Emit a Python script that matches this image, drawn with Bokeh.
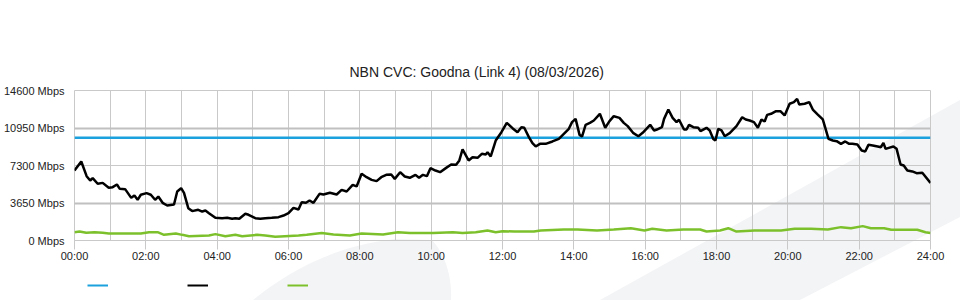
from bokeh.plotting import figure
from bokeh.layouts import column
from bokeh.models import (FixedTicker, Grid, Legend, LegendItem, Range1d)
from bokeh.embed import file_html
from bokeh.resources import INLINE

TITLE = "NBN CVC: Goodna (Link 4) (08/03/2026)"

# capacity line
cap_hours = [0, 24]
cap_values = [10000, 10000]

# traffic (black) series, hours since midnight and Mbps
black_hours = [0.00, 0.19, 0.34, 0.44, 0.51, 0.65, 0.79, 0.96, 1.07, 1.19, 1.27, 1.42, 1.59, 1.68, 1.77,
               1.86, 2.02, 2.14, 2.26, 2.35, 2.47, 2.60, 2.79, 2.88, 2.99, 3.07, 3.19, 3.30, 3.47, 3.58,
               3.67, 3.77, 3.95, 4.14, 4.28, 4.42, 4.51, 4.62, 4.79, 4.88, 5.07, 5.21, 5.35, 5.53, 5.72,
               5.86, 6.00, 6.14, 6.28, 6.37, 6.49, 6.59, 6.70, 6.87, 6.98, 7.16, 7.35, 7.49, 7.63, 7.80,
               7.91, 8.05, 8.19, 8.33, 8.47, 8.60, 8.74, 8.88, 8.98, 9.13, 9.26, 9.40, 9.56, 9.66, 9.77,
               9.88, 9.98, 10.12, 10.25, 10.42, 10.56, 10.70, 10.79, 10.88, 11.05, 11.16, 11.30, 11.42,
               11.53, 11.58, 11.67, 11.81, 11.97, 12.12, 12.28, 12.42, 12.53, 12.61, 12.74, 12.84, 12.93,
               13.05, 13.21, 13.40, 13.58, 13.72, 13.86, 13.95, 14.05, 14.16, 14.23, 14.33, 14.45, 14.56,
               14.73, 14.88, 15.00, 15.12, 15.28, 15.40, 15.51, 15.66, 15.81, 15.93, 16.14, 16.25, 16.33,
               16.47, 16.53, 16.65, 16.77, 16.88, 16.95, 17.09, 17.16, 17.23, 17.35, 17.49, 17.55, 17.72,
               17.81, 17.91, 17.97, 18.05, 18.14, 18.23, 18.37, 18.56, 18.72, 18.82, 18.93, 19.05, 19.16,
               19.26, 19.35, 19.42, 19.53, 19.67, 19.79, 19.91, 20.05, 20.17, 20.26, 20.32, 20.47, 20.60,
               20.70, 20.84, 20.98, 21.05, 21.14, 21.26, 21.37, 21.49, 21.61, 21.72, 21.81, 21.95, 22.07,
               22.17, 22.26, 22.38, 22.52, 22.61, 22.68, 22.74, 22.83, 22.96, 23.05, 23.16, 23.25, 23.35,
               23.49, 23.61, 23.77, 24.00]
black_values = [6810, 7690, 6260, 5840, 6070, 5520, 5610, 5130, 5190, 5450, 5030, 5000, 4150, 4380, 3960,
                4450, 4610, 4450, 3960, 4280, 3670, 3410, 3500, 4770, 5090, 4640, 3150, 2860, 2990, 2820,
                2920, 2660, 2210, 2170, 2210, 2110, 2170, 2110, 2600, 2500, 2170, 2110, 2170, 2210, 2270,
                2430, 2660, 3180, 3020, 3730, 3670, 3890, 3670, 4540, 4480, 4640, 4480, 4930, 4770, 5420,
                5260, 6490, 6160, 5900, 5780, 6160, 6390, 6420, 6000, 6650, 6230, 6100, 6390, 6100, 6390,
                6260, 7040, 6810, 6650, 7070, 7400, 7370, 7790, 8860, 7790, 8110, 8050, 8440,
                8370, 8600, 8180, 9730, 10540, 11450, 10930, 10540, 11030, 10970, 10060, 9470, 9150,
                9410, 9410, 9640, 9890, 10380, 10870, 11520, 11840, 10280, 10120, 11260, 11450, 11680,
                12330, 10970, 11620, 12100, 11940, 11450, 11130, 10480, 10150, 10480, 11260, 10710, 10800,
                11030, 11840, 12750, 11940, 11520, 11750, 10800, 10800, 11260, 11030, 10970, 10640, 10970,
                10710, 9890, 9730, 10870, 10710, 10150, 10450, 11130, 12000, 11780, 11680, 11520, 10970,
                11780, 11580, 12230, 12330, 12590, 12590, 12170, 13310, 13470, 13790, 13240, 13310, 13470,
                12750, 12260, 11780, 10970, 9890, 9730, 9670, 9410, 9640, 9410, 9410, 9340, 8760,
                8660, 9310, 9250, 9150, 9080, 9510, 8920, 9020, 9150, 8920, 7400, 7300, 6810,
                6720, 6550, 6590, 5610]

# green series
green_hours = [0.00, 0.14, 0.33, 0.56, 0.79, 0.96, 1.40, 1.86, 2.09, 2.33, 2.51, 2.84, 3.02, 3.21, 3.77,
               3.95, 4.23, 4.51, 4.70, 5.12, 5.35, 5.63, 5.90, 6.28, 6.51, 6.93, 7.26, 7.72, 8.05, 8.65,
               9.07, 9.40, 10.05, 10.61, 10.88, 11.25, 11.58, 11.81, 12.00, 12.33, 12.88, 13.07, 13.72,
               14.10, 14.65, 15.12, 15.60, 15.98, 16.20, 16.60, 17.07, 17.54, 17.72, 18.10, 18.33, 18.56,
               19.07, 19.35, 19.81, 20.19, 20.65, 21.12, 21.49, 21.77, 22.10, 22.33, 22.70, 22.90, 23.63,
               23.86, 24.00]
green_values = [810, 870, 750, 810, 750, 680, 680, 680, 810, 810, 550, 680, 550, 420, 490,
                620, 420, 550, 420, 550, 490, 360, 420, 490, 550, 720, 590, 490, 680, 590,
                810, 720, 720, 810, 720, 810, 980, 810, 910, 870, 870, 980, 1070,
                1070, 980, 1070, 1200, 980, 1140, 980, 1070, 1070, 870, 980, 1200, 870,
                980, 980, 980, 1140, 1140, 1070, 1300, 1200, 1400, 1200, 1200, 1040, 1040,
                810, 720]

x_ticks = list(range(0, 25, 2))
x_labels = ["%02d:00" % h for h in x_ticks]
y_ticks = [0, 3650, 7300, 10950, 14600]
y_labels = ["%d Mbps" % v for v in y_ticks]

FONT = "Liberation Sans"
GRID = "#c9c9c9"
BLUE = "#1ba1dd"
GREEN = "#7cc12c"
BLACK = "#000000"

p = figure(width=960, height=270, output_backend="svg", toolbar_location=None,
           x_range=Range1d(0, 24), y_range=Range1d(0, 14600),
           min_border_left=70, min_border_right=30, min_border_top=90, min_border_bottom=30)
p.background_fill_color = None
p.border_fill_color = None
p.outline_line_color = GRID
p.outline_line_width = 1

p.title.text = TITLE
p.title.align = "left"
p.title.offset = 275
p.title.standoff = 22
p.title.text_font = FONT
p.title.text_font_size = "14px"
p.title.text_font_style = "normal"
p.title.text_color = "#222222"

# axes
xa = p.xaxis[0]
xa.ticker = FixedTicker(ticks=x_ticks)
xa.major_label_overrides = dict(zip(x_ticks, x_labels))
xa.axis_line_color = GRID
xa.major_tick_line_color = GRID
xa.major_tick_out = 9
xa.major_tick_in = 0
xa.minor_tick_line_color = None
xa.major_label_standoff = 0
xa.major_label_text_font = FONT
xa.major_label_text_font_size = "11px"
xa.major_label_text_color = "#222222"

ya = p.yaxis[0]
ya.ticker = FixedTicker(ticks=y_ticks)
ya.major_label_overrides = dict(zip(y_ticks, y_labels))
ya.axis_line_color = None
ya.major_tick_line_color = None
ya.minor_tick_line_color = None
ya.major_tick_out = 0
ya.major_tick_in = 0
ya.major_label_standoff = 10
ya.major_label_text_font = FONT
ya.major_label_text_font_size = "11px"
ya.major_label_text_color = "#222222"

# grids
p.xgrid.ticker = FixedTicker(ticks=list(range(25)))
p.xgrid.grid_line_color = GRID
p.xgrid.grid_line_width = 1
p.ygrid.ticker = FixedTicker(ticks=[3650, 10950])
p.ygrid.grid_line_color = "#c0c0c0"
p.ygrid.grid_line_width = 2
p.add_layout(Grid(dimension=1, ticker=FixedTicker(ticks=[7300]), grid_line_color=GRID, grid_line_width=1))

# series
p.line(cap_hours, cap_values, line_color=BLUE, line_width=2.5)
p.line(green_hours, green_values, line_color=GREEN, line_width=2.5)
p.line(black_hours, black_values, line_color=BLACK, line_width=2.5)

# legend strip (unlabelled keys, as in the original)
leg = figure(width=960, height=30, output_backend="svg", toolbar_location=None,
             x_range=Range1d(0, 1), y_range=Range1d(0, 1),
             min_border_left=39, min_border_right=30, min_border_top=0, min_border_bottom=0)
leg.title.visible = False
leg.axis.visible = False
leg.grid.visible = False
leg.outline_line_color = None
leg.background_fill_color = None
leg.border_fill_color = None
k_cap = leg.line([0, 1], [-5, -5], line_color=BLUE, line_width=2)
k_black = leg.line([0, 1], [-5, -5], line_color=BLACK, line_width=2)
k_green = leg.line([0, 1], [-5, -5], line_color=GREEN, line_width=2)
legend = Legend(items=[LegendItem(label=" ", renderers=[k_cap]),
                       LegendItem(label=" ", renderers=[k_black]),
                       LegendItem(label=" ", renderers=[k_green])],
                orientation="horizontal", location="top_left",
                glyph_width=21, glyph_height=4, label_width=79, label_height=4,
                label_standoff=0, spacing=0, padding=0, margin=13,
                label_text_font_size="1px",
                border_line_color=None, background_fill_alpha=0)
leg.add_layout(legend, "center")

# faint background watermark
wm = ("<svg xmlns='http://www.w3.org/2000/svg' width='960' height='300'>"
      "<polygon points='600,300 960,100 960,217 800,300' fill='%23f3f4f6'/>"
      "<path d='M253,300 C290,270 335,246 395,239 L432,240 C446,255 452,278 451,300 Z' fill='%23f3f4f6'/>"
      "</svg>")
layout = column(p, leg, spacing=0,
                styles={"background-image": 'url("data:image/svg+xml;utf8,%s")' % wm,
                        "background-repeat": "no-repeat",
                        "background-color": "white"})

open("out.html", "w").write(file_html(layout, INLINE))
